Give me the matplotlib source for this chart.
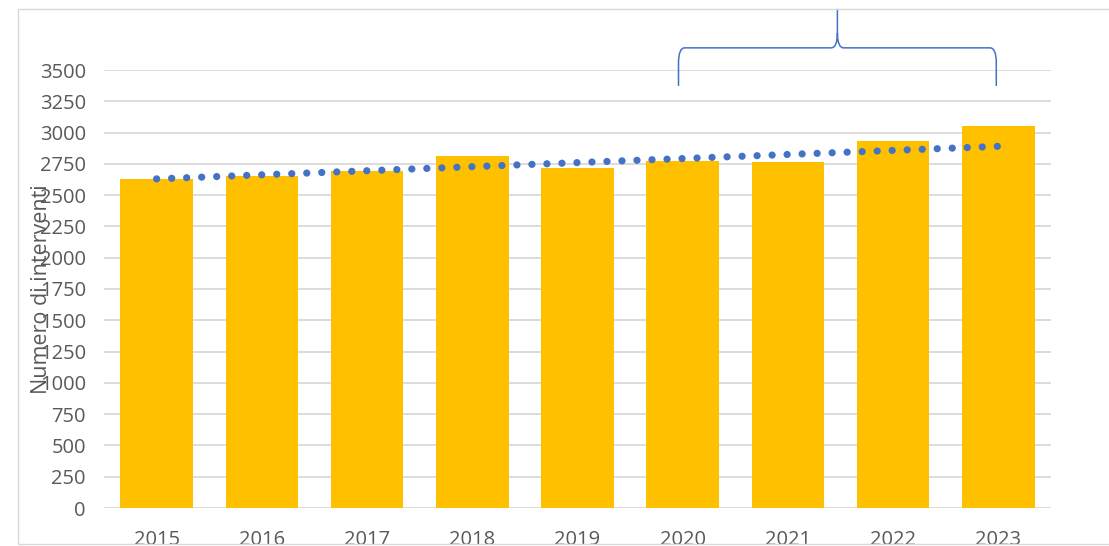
import matplotlib.pyplot as plt
import numpy as np
from matplotlib.path import Path
from matplotlib.patches import PathPatch, Rectangle

years = ['2015', '2016', '2017', '2018', '2019', '2020', '2021', '2022', '2023']
interventi = [2630, 2654, 2694, 2814, 2718, 2772, 2766, 2936, 3051]
trend_start = 2630
trend_end = 2890
y_ticks = list(range(0, 3501, 250))

bar_color = '#FFC000'
blue = '#4472C4'
grid_color = '#D9D9D9'
text_color = '#595959'

plt.rcParams['font.family'] = ['Open Sans', 'DejaVu Sans']

fig = plt.figure(figsize=(11.09, 5.46), dpi=100)
W, H = 1109, 546
ax = fig.add_axes([104 / W, (H - 508) / H, (1051 - 104) / W, (508 - 70) / H])

x = np.arange(len(years))
ax.bar(x, interventi, width=0.69, color=bar_color, zorder=2)

# linear trend, dotted
ax.plot([x[0], x[-1]], [trend_start, trend_end], color=blue, lw=5.2,
        linestyle=(0, (0.01, 2.07)), dash_capstyle='round', zorder=3)

ax.set_xlim(-0.5, len(years) - 0.5)
ax.set_ylim(0, 3500)
ax.set_yticks(y_ticks)
ax.set_xticks(x)
ax.set_xticklabels(years)
ax.yaxis.grid(True, color=grid_color, lw=1.3, zorder=0)
ax.set_axisbelow(True)
for s in ax.spines.values():
    s.set_visible(False)
ax.tick_params(axis='both', length=0, labelsize=14.5, labelcolor=text_color)
ax.tick_params(axis='y', pad=13)
ax.tick_params(axis='x', pad=16)

ax.set_ylabel('Numero di interventi', fontsize=15.5, color=text_color)
ax.yaxis.label.set_va('center')
ax.yaxis.set_label_coords(-0.066, 0.5)

# curly brace over 2020-2023
bx0, bx1 = 4.96, 7.98
bmid = (bx0 + bx1) / 2
yb, yh, yt = 3373, 3677, 3989
dx, dy = 0.06, 120
verts = [
    (bx0, yb), (bx0, yh - dy), (bx0, yh), (bx0 + dx, yh),
    (bmid - dx, yh), (bmid, yh), (bmid, yh + dy), (bmid, yt),
    (bmid, yh + dy), (bmid, yh), (bmid + dx, yh),
    (bx1 - dx, yh), (bx1, yh), (bx1, yh - dy), (bx1, yb),
]
codes = [Path.MOVETO, Path.LINETO, Path.CURVE3, Path.CURVE3,
         Path.LINETO, Path.CURVE3, Path.CURVE3, Path.LINETO,
         Path.MOVETO, Path.CURVE3, Path.CURVE3,
         Path.LINETO, Path.CURVE3, Path.CURVE3, Path.LINETO]
ax.add_patch(PathPatch(Path(verts, codes), fill=False, edgecolor=blue,
                       lw=1.1, clip_on=False, zorder=4))

# chart area border
fig.patches.append(Rectangle((18 / W, (H - 544) / H), 1.2, (544 - 9) / H,
                             transform=fig.transFigure, fill=False,
                             edgecolor=grid_color, lw=1.0))

fig.savefig('out.png', dpi=100)
